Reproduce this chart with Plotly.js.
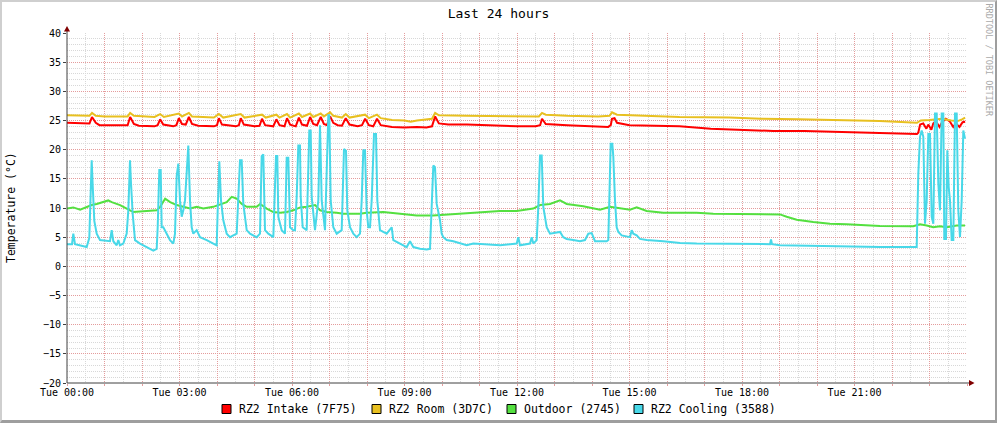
<!DOCTYPE html>
<html>
<head>
<meta charset="utf-8">
<script src="https://cdn.plot.ly/plotly-3.0.1.min.js"></script>
<style>
html,body{margin:0;padding:0;background:#fff;}
#wrap{position:relative;width:997px;height:423px;overflow:hidden;}
#chart{position:absolute;left:0;top:0;width:997px;height:423px;}
#frame{position:absolute;left:0;top:0;width:997px;height:423px;box-sizing:border-box;
  border-top:2px solid #cfcfcf;border-left:2px solid #cfcfcf;border-right:2px solid #9e9e9e;border-bottom:3px solid #9e9e9e;pointer-events:none;}
</style>
</head>
<body>
<div id="wrap"><div id="chart"></div><div id="frame"></div></div>
<script>
// ---- data (time in minutes since Tue 00:00, temperature in °C) ----
const seriesNames = ['RZ2 Intake (7F75)', 'RZ2 Room (3D7C)', 'Outdoor (2745)', 'RZ2 Cooling (3588)'];
const xTickLabels = ['Tue 00:00', 'Tue 03:00', 'Tue 06:00', 'Tue 09:00', 'Tue 12:00', 'Tue 15:00', 'Tue 18:00', 'Tue 21:00'];
const xTickLabelMinutes = [0, 180, 360, 540, 720, 900, 1080, 1260];

const intakeT = [0,30,36,40,46,52,70,90,97,101,107,115,140,145,149,154,170,175,179,184,190,195,200,210,235,240,243,248,270,275,278,283,300,308,312,317,330,335,340,348,352,357,366,371,376,384,389,394,400,406,411,416,421,426,433,440,446,452,465,472,477,483,490,496,502,520,540,560,575,584,589,595,610,640,680,720,750,757,760,766,800,840,866,870,872,876,880,900,980,1030,1080,1130,1180,1250,1300,1360,1362,1365,1370,1375,1378,1383,1386,1390,1396,1400,1406,1412,1418,1422,1428,1433,1437];
const intakeV = [24.6,24.6,24.5,25.6,24.6,24.2,24.2,24.1,24.2,25.6,24.4,24.1,24.0,24.2,25.2,24.3,24.0,24.2,25.4,24.4,24.3,25.6,24.4,24.1,24.0,24.2,25.4,24.3,24.0,24.2,25.4,24.3,24.0,24.1,25.3,24.2,24.0,25.2,24.2,24.0,25.4,24.3,24.0,25.5,24.3,24.1,25.6,24.4,24.2,25.6,24.4,24.2,25.7,24.6,24.2,24.1,25.4,24.3,24.0,24.2,25.3,24.2,24.0,25.3,24.2,23.9,23.8,23.9,23.8,24.0,25.7,24.5,24.3,24.3,24.1,24.0,24.0,24.2,25.3,24.4,24.2,24.0,23.9,24.2,25.3,25.4,24.6,24.2,24.0,23.6,23.4,23.2,23.2,23.0,22.8,22.7,22.9,24.3,24.5,23.6,24.3,23.4,24.5,24.9,23.9,24.7,25.3,24.9,23.9,24.5,23.9,24.7,24.8];

const roomT = [0,30,36,40,46,60,90,97,101,107,140,149,155,179,184,195,200,235,243,250,278,284,312,318,335,340,352,357,371,376,389,394,406,411,421,426,440,446,452,477,483,496,502,520,540,550,560,584,589,595,640,700,755,760,766,800,850,868,872,880,900,980,1060,1110,1170,1250,1300,1360,1366,1380,1400,1415,1425,1432,1437];
const roomV = [25.9,25.8,25.8,26.3,25.8,25.7,25.7,25.7,26.3,25.8,25.6,26.1,25.6,26.2,25.7,26.3,25.7,25.5,26.1,25.5,26.1,25.5,26.0,25.5,26.0,25.5,26.1,25.5,26.2,25.6,26.2,25.6,26.2,25.7,26.4,25.8,25.5,26.1,25.5,26.0,25.4,26.0,25.4,25.1,25.0,24.8,25.0,25.3,26.3,25.9,25.8,25.7,25.7,26.3,26.0,25.8,25.7,25.8,26.4,26.0,25.9,25.6,25.5,25.3,25.2,25.0,24.9,24.6,25.0,25.1,25.3,25.0,24.9,25.2,25.5];

const outdoorT = [0,10,21,31.5,39.5,47.5,58,66,71.5,79.5,85,95.5,106,127.5,143.5,149,157,165,175.5,186,197,207.5,218,234,242,255.5,263.5,271.5,279.5,287.5,303.5,309,319.5,330,341,351.5,362,373,383.5,397,405,415.5,431.5,442,453,469,479.5,506,532.8,559.5,586,612.8,639.5,666,692.8,719.5,746,757,772.8,788.8,799.5,826,842,852.8,868.8,884.8,900.8,911.5,927.5,954,1007.5,1034,1087.5,1140.8,1151.5,1167.5,1194,1220.8,1247.5,1274,1300.8,1354,1364.8,1375.5,1386,1396.8,1407.5,1423.5,1436.8];
const outdoorV = [9.9,10.1,9.7,10.2,10.5,10.7,11.0,11.3,11.0,10.7,10.5,9.9,9.3,9.5,9.6,10.2,11.6,11.0,10.5,10.2,9.9,10.2,9.9,10.2,10.5,11.0,11.9,11.6,10.7,10.2,10.2,10.7,9.9,9.3,9.2,9.3,9.6,10.1,10.2,10.5,9.6,9.3,9.2,9.0,9.0,9.0,9.2,9.3,9.0,8.7,8.7,8.9,9.0,9.3,9.5,9.5,9.9,10.5,10.7,11.3,10.7,10.3,9.9,9.7,10.2,9.9,9.7,10.1,9.5,9.2,9.2,9.0,8.9,8.9,8.5,8.0,7.6,7.3,7.2,7.0,6.9,6.86,7.2,7.0,6.7,6.86,6.7,7.0,7.0];

const coolingT = [0,8,10.1,12.8,20,31.5,35.7,37.9,39.5,41.1,42.1,43.7,47.5,52.8,68.8,71.5,74.1,79.5,82.1,84.8,90.1,95.5,98.1,100.8,102.4,105.1,108.8,116.8,127.5,138.1,143.5,145.1,147.7,149.9,151.5,154.1,159.5,164.8,170.1,172.8,175.5,178.1,180.8,183.5,186.1,188.8,194.1,196.8,199.5,202.1,207.5,212.8,223.5,234.1,239.5,241.1,243.7,246.4,250.1,255.5,260.8,266.1,271.5,276.8,279.5,282.1,287.5,292.8,298.1,303.5,308.8,311.5,314.1,316.8,322.1,330.1,334.4,336.5,338.1,343.5,348.8,351.5,354.1,356.8,362.1,364.8,367.5,370.1,372.8,373.9,377.1,383.5,387.7,389.9,391.5,396.8,402.1,404.8,407.5,412.8,418.1,419.7,421.9,426.1,431.5,439.5,443.2,446.4,448.5,452.8,458.1,463.5,468.8,471.5,474.1,476.8,479.5,482.1,484.8,487.5,491.2,494.4,496.5,500.8,511.5,519.5,522.1,532.8,543.5,548.8,554.1,564.8,575.5,580.8,583.5,586.1,588.8,591.5,596.8,599.5,602.1,607.5,618.1,628.8,639.5,650.1,671.5,692.8,719.5,722.1,724.8,740.8,743.5,746.1,751.5,754.1,756.8,759.5,762.1,767.5,772.8,788.8,794.1,799.5,810.1,820.8,828.8,834.1,839.5,842.1,844.8,852.8,863.5,866.1,867.7,869.9,872.5,874.1,876.8,879.5,882.1,887.5,900.8,903.5,906.1,911.5,916.8,927.5,954.1,980.8,1007.5,1034.1,1060.8,1087.5,1114.1,1124.8,1126.4,1128,1140.8,1194.1,1247.5,1300.8,1354.1,1359.5,1362.1,1364.8,1367.5,1370.1,1372.8,1375.5,1378.1,1380.8,1383.5,1386.1,1388.8,1391.5,1394.1,1396.8,1399.5,1402.1,1403.7,1406.4,1408.5,1410.7,1412.8,1415.5,1418.1,1420.8,1423.5,1426.1,1428.8,1431.5,1434.1,1436.8];
const coolingV = [3.8,3.8,5.6,3.8,3.6,3.3,4.9,13.9,18.2,13.9,11.9,7.8,5.6,4.5,4.3,6.2,4.3,3.6,4.5,3.6,3.9,5.6,9.6,18.2,14.2,9.0,4.5,3.9,3.3,2.7,3.0,6.7,16.5,16.5,6.7,6.7,5.6,4.5,3.9,5.6,15.5,17.6,11.3,8.5,9.6,11.3,20.7,11.3,6.7,5.6,6.2,5.0,4.5,3.9,3.6,9.6,18.0,11.3,7.9,5.6,5.0,5.3,5.6,18.2,18.2,10.7,6.2,5.6,5.3,5.0,5.6,18.9,19.2,6.2,5.6,5.0,18.9,18.9,8.5,6.2,5.6,18.6,18.6,6.7,6.2,6.2,11.9,20.7,20.7,11.9,6.7,6.2,23.3,23.3,11.9,6.2,11.3,24.2,11.3,6.2,25.9,25.9,11.3,6.7,5.6,6.2,20.1,19.8,9.6,6.7,5.6,5.0,5.6,11.3,19.9,19.9,9.6,6.7,6.7,11.3,22.7,22.7,11.3,6.2,5.6,6.7,4.5,3.9,3.3,4.3,3.3,3.0,2.9,3.0,9.6,17.3,17.0,10.7,7.9,5.6,5.0,4.5,4.3,3.9,3.6,3.9,3.8,3.6,3.9,5.0,3.6,3.9,5.0,3.9,4.5,10.2,19.0,19.0,10.2,6.7,5.6,5.9,5.0,4.7,4.5,4.3,4.5,5.6,5.7,5.0,4.3,4.3,4.3,4.5,11.3,21.0,21.0,18.8,11.3,6.7,5.9,5.3,5.0,6.2,5.6,5.3,4.7,4.5,4.3,4.0,3.9,3.9,3.9,3.9,3.9,3.8,4.6,3.8,3.6,3.5,3.3,3.3,3.3,3.3,15.9,22.2,23.3,22.2,7.3,11.3,22.7,22.7,8.5,7.3,26.2,26.2,14.2,9.6,26.2,26.2,4.7,4.7,19.9,13.6,11.3,4.5,4.5,26.2,26.2,9.6,5.0,11.3,23.3,21.9];

// ---- styling ----
const colors = ['#ff0000', '#e8c020', '#54e040', '#48d8e8'];
const FONT = 'DejaVu Sans Mono, monospace';
const seriesT = [intakeT, roomT, outdoorT, coolingT];
const seriesV = [intakeV, roomV, outdoorV, coolingV];

const traces = seriesNames.map((n, i) => ({
  type: 'scatter', mode: 'lines', name: n,
  x: seriesT[i], y: seriesV[i],
  line: {color: colors[i], width: 2},
  showlegend: false, hoverinfo: 'skip'
}));

// hourly major ticks, labelled every 3 h
const majorVals = [], majorText = [];
for (let m = 0; m <= 1440; m += 60) {
  majorVals.push(m);
  const k = xTickLabelMinutes.indexOf(m);
  majorText.push(k >= 0 ? xTickLabels[k] : '');
}

const W = 900, H = 350, L = 67, T = 33;
const px = v => (v - L) / W;          // pixel -> paper x
const py = v => (T + H - v) / H;      // pixel -> paper y

const shapes = [];
const annotations = [];
// axis lines + arrows
shapes.push({type: 'line', xref: 'paper', yref: 'paper', x0: 0, x1: 0, y0: 0, y1: py(31), line: {color: '#404040', width: 1}});
shapes.push({type: 'path', xref: 'paper', yref: 'paper', path: `M ${px(64)} ${py(31.5)} L ${px(70)} ${py(31.5)} L ${px(67)} ${py(26)} Z`, fillcolor: '#800000', line: {width: 0}});
shapes.push({type: 'line', xref: 'paper', yref: 'paper', x0: 0, x1: px(969), y0: 0, y1: 0, line: {color: '#404040', width: 1}});
shapes.push({type: 'path', xref: 'paper', yref: 'paper', path: `M ${px(969)} ${py(380)} L ${px(969)} ${py(386)} L ${px(974.5)} ${py(383)} Z`, fillcolor: '#800000', line: {width: 0}});

// legend
const legSq = [222, 372, 507, 634];
seriesNames.forEach((n, i) => {
  shapes.push({type: 'rect', xref: 'paper', yref: 'paper', x0: px(legSq[i]), x1: px(legSq[i] + 9), y0: py(413.5), y1: py(404.5),
    fillcolor: colors[i], line: {color: '#000', width: 1}});
  annotations.push({xref: 'paper', yref: 'paper', x: px(legSq[i] + 14.5), y: py(409), xanchor: 'left', yanchor: 'middle',
    text: n, showarrow: false, font: {family: FONT, size: 11.5, color: '#000'}});
});
// y-axis title
annotations.push({xref: 'paper', yref: 'paper', x: px(11), y: py(208), xanchor: 'center', yanchor: 'middle', textangle: -90,
  text: 'Temperature (°C)', showarrow: false, font: {family: FONT, size: 11.5, color: '#000'}});
// watermark
annotations.push({xref: 'paper', yref: 'paper', x: px(988.5), y: py(60), xanchor: 'center', yanchor: 'middle', textangle: 90,
  text: 'RRDTOOL / TOBI OETIKER', showarrow: false, font: {family: FONT, size: 8.5, color: '#aaaaaa'}});

const majorGrid = '#e49c9c', minorGrid = '#d8d8d8', dash = '1px,1px';
const layout = {
  width: 997, height: 423,
  margin: {l: 67, r: 30, t: 33, b: 40},
  paper_bgcolor: '#ffffff', plot_bgcolor: '#ffffff',
  font: {family: FONT, size: 10, color: '#000'},
  title: {text: 'Last 24 hours', x: 0.5, xref: 'container', y: 1 - 13.5 / 423, yref: 'container', yanchor: 'middle',
    font: {family: FONT, size: 13, color: '#000'}},
  xaxis: {
    range: [0, 1440], tickmode: 'array', tickvals: majorVals, ticktext: majorText,
    showgrid: true, gridcolor: majorGrid, griddash: dash, gridwidth: 1,
    minor: {tickmode: 'linear', tick0: 30, dtick: 60, showgrid: true, gridcolor: minorGrid, griddash: dash, gridwidth: 1, ticks: ''},
    ticks: 'outside', ticklen: 2, tickcolor: majorGrid, ticklabelstandoff: -2,
    showline: false, zeroline: false, automargin: false, fixedrange: true,
    tickfont: {family: FONT, size: 10, color: '#000'}
  },
  yaxis: {
    range: [-20, 40], tickmode: 'linear', tick0: -20, dtick: 5,
    showgrid: true, gridcolor: majorGrid, griddash: dash, gridwidth: 1,
    minor: {tickmode: 'linear', tick0: -20, dtick: 1, showgrid: true, gridcolor: minorGrid, griddash: dash, gridwidth: 1, ticks: ''},
    ticks: 'outside', ticklen: 3, tickcolor: '#404040',
    showline: false, zeroline: false, automargin: false, fixedrange: true,
    tickfont: {family: FONT, size: 10, color: '#000'}
  },
  shapes: shapes,
  annotations: annotations,
  showlegend: false
};

Plotly.newPlot('chart', traces, layout, {displayModeBar: false, staticPlot: true});
</script>
</body>
</html>
